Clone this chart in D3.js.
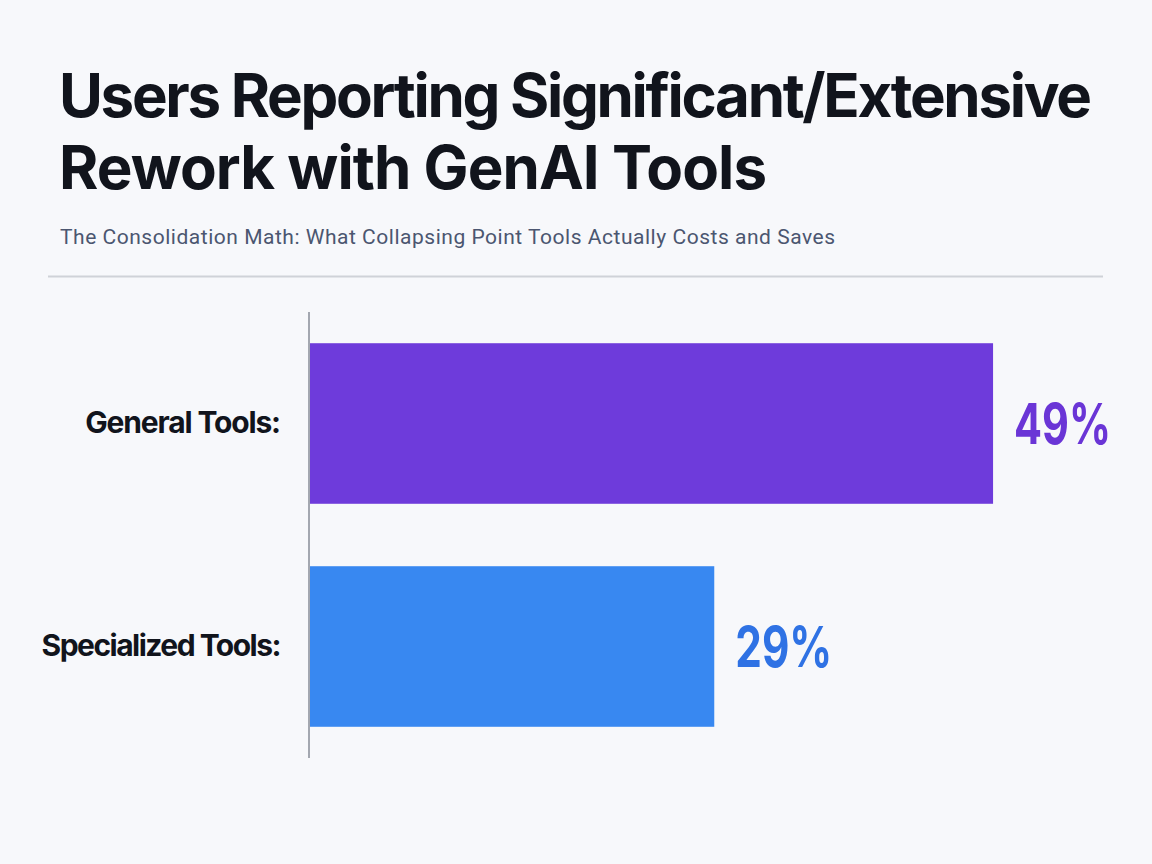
<!DOCTYPE html>
<html>
<head>
<meta charset="utf-8">
<script src="https://cdn.jsdelivr.net/npm/d3@7"></script>
<style>
  html, body { margin: 0; padding: 0; background: #f7f8fb; }
  svg { display: block; }
</style>
</head>
<body>
<script>
const categories = ["General Tools:", "Specialized Tools:"];
const values = [49, 29];
const valueLabels = ["49%", "29%"];
const barColors = ["#6e3bdb", "#3888f1"];
const labelColors = ["#6a35d6", "#2f72e4"];
const titleLines = ["Users Reporting Significant/Extensive", "Rework with GenAI Tools"];
const subtitle = "The Consolidation Math: What Collapsing Point Tools Actually Costs and Saves";

const W = 1152, H = 864;
const svg = d3.select("body").append("svg").attr("width", W).attr("height", H);
svg.append("rect").attr("width", W).attr("height", H).attr("fill", "#f7f8fb");

// fit a text to a target width via letter-spacing
function fitSpacing(sel, target) {
  sel.each(function() {
    const node = this;
    const n = node.textContent.length;
    const natural = node.getComputedTextLength();
    const ls = (target - natural) / Math.max(1, n - 1);
    d3.select(node).attr("letter-spacing", ls);
  });
}

// Title
const titleWidths = [1033, 708];
titleLines.forEach((t, i) => {
  const tx = svg.append("text")
    .attr("x", 59).attr("y", 117 + i * 72)
    .attr("font-family", "Inter, 'Noto Sans', sans-serif")
    .attr("font-weight", 700)
    .attr("font-size", 60)
    .attr("fill", "#11141c")
    .text(t);
  fitSpacing(tx, titleWidths[i]);
});

const sub = svg.append("text")
  .attr("x", 60).attr("y", 244)
  .attr("font-family", "Roboto, 'Noto Sans', sans-serif")
  .attr("font-size", 21)
  .attr("fill", "#4b5670")
  .text(subtitle);
fitSpacing(sub, 775);

svg.append("line")
  .attr("x1", 48).attr("x2", 1103).attr("y1", 276.5).attr("y2", 276.5)
  .attr("stroke", "#cfd2d8").attr("stroke-width", 2);

// Scales
const x = d3.scaleLinear().domain([0, 50]).range([310, 1007]);
const y = d3.scaleBand().domain(categories).range([312, 758]).paddingInner(0.28).paddingOuter(0.14);

svg.selectAll("rect.bar").data(categories).enter().append("rect")
  .attr("class", "bar")
  .attr("x", x(0))
  .attr("y", d => y(d))
  .attr("width", (d, i) => x(values[i]) - x(0))
  .attr("height", y.bandwidth())
  .attr("fill", (d, i) => barColors[i]);

// Axis line
const yAxis = svg.append("g").attr("transform", `translate(${x(0) - 1},0)`)
  .call(d3.axisLeft(y).tickSize(0).tickPadding(29).tickFormat(d => d));
yAxis.select(".domain").attr("stroke", "#a3a7b0").attr("stroke-width", 2)
  .attr("d", `M0,312V758`);
const catWidths = [196, 240];
yAxis.selectAll(".tick text")
  .attr("font-family", "Inter, 'Noto Sans', sans-serif")
  .attr("font-weight", 700)
  .attr("font-size", 30)
  .attr("fill", "#11141c")
  .attr("dy", "0.33em")
  .each(function(d, i) { fitSpacing(d3.select(this), catWidths[i]); });

// Value labels
svg.selectAll("text.val").data(categories).enter().append("text")
  .attr("class", "val")
  .attr("x", (d, i) => x(values[i]) + 21)
  .attr("y", d => y(d) + y.bandwidth() / 2)
  .attr("dy", "0.36em")
  .attr("font-family", "Inter, 'Noto Sans', sans-serif")
  .attr("font-weight", 700)
  .attr("font-size", 57)
  .attr("fill", (d, i) => labelColors[i])
  .attr("textLength", 97)
  .attr("lengthAdjust", "spacingAndGlyphs")
  .text((d, i) => valueLabels[i]);
</script>
</body>
</html>
